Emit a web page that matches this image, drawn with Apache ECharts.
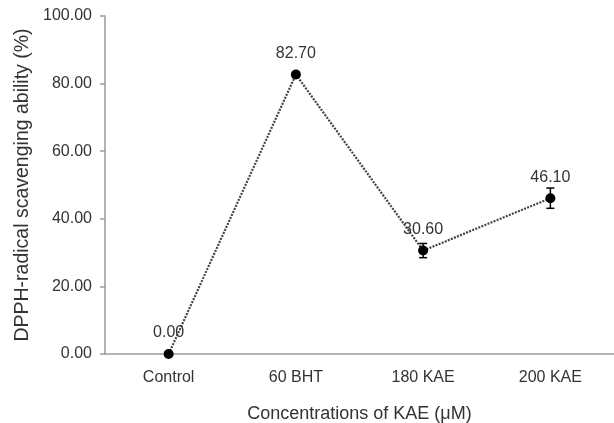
<!DOCTYPE html>
<html>
<head>
<meta charset="utf-8">
<script src="https://cdn.jsdelivr.net/npm/echarts@6/dist/echarts.min.js"></script>
<style>html,body{margin:0;padding:0;background:#fff}#c{width:614px;height:423px}</style>
</head>
<body>
<div id="c"></div>
<script>
var categories = ['Control', '60 BHT', '180 KAE', '200 KAE'];
var values = [0.00, 82.70, 30.60, 46.10];
var errors = [0.0, 0.8, 2.1, 3.0];
var yTicks = [0, 20, 40, 60, 80, 100];

var chart = echarts.init(document.getElementById('c'));
var font = 'Liberation Sans, Arial, sans-serif';
chart.setOption({
  animation: false,
  grid: {left: 105, right: 0, top: 16, bottom: 69, containLabel: false, outerBoundsMode: 'none'},
  xAxis: {
    type: 'category',
    data: categories,
    boundaryGap: true,
    axisLine: {lineStyle: {color: '#9a9a9a', width: 1.5}},
    axisTick: {show: false},
    axisLabel: {color: '#333', fontSize: 16, fontFamily: font, margin: 16},
    name: 'Concentrations of KAE (\u03bcM)',
    nameLocation: 'middle',
    nameGap: 51,
    nameTextStyle: {color: '#333', fontSize: 18, fontFamily: font}
  },
  yAxis: {
    type: 'value',
    min: yTicks[0], max: yTicks[yTicks.length - 1], interval: 20,
    splitLine: {show: false},
    axisLine: {show: true, lineStyle: {color: '#9a9a9a', width: 1.5}},
    axisTick: {show: true, length: 5, lineStyle: {color: '#9a9a9a', width: 1.5}},
    axisLabel: {color: '#333', fontSize: 16, fontFamily: font, margin: 13,
      formatter: function (v) { return v.toFixed(2); }},
    name: 'DPPH-radical scavenging ability (%)',
    nameLocation: 'middle',
    nameGap: 70,
    nameTextStyle: {color: '#333', fontSize: 19.5, fontFamily: font}
  },
  series: [
    {
      type: 'line',
      data: values,
      symbol: 'circle',
      symbolSize: 10,
      itemStyle: {color: '#000'},
      lineStyle: {color: '#444', width: 2.2, type: [2, 1.3]},
      label: {show: true, position: 'top', distance: 8, color: '#333', fontSize: 16,
        fontFamily: font, formatter: function (p) { return p.value.toFixed(2); }},
      z: 3
    },
    {
      type: 'custom',
      data: values.map(function (v, i) { return [i, v - errors[i], v + errors[i]]; }),
      renderItem: function (params, api) {
        var lo = api.coord([api.value(0), api.value(1)]);
        var hi = api.coord([api.value(0), api.value(2)]);
        var hw = 4;
        var st = {stroke: '#000', lineWidth: 1.5};
        return {type: 'group', children: [
          {type: 'line', shape: {x1: lo[0], y1: lo[1], x2: hi[0], y2: hi[1]}, style: st},
          {type: 'line', shape: {x1: lo[0] - hw, y1: lo[1], x2: lo[0] + hw, y2: lo[1]}, style: st},
          {type: 'line', shape: {x1: hi[0] - hw, y1: hi[1], x2: hi[0] + hw, y2: hi[1]}, style: st}
        ]};
      },
      z: 4
    }
  ]
});
</script>
</body>
</html>
